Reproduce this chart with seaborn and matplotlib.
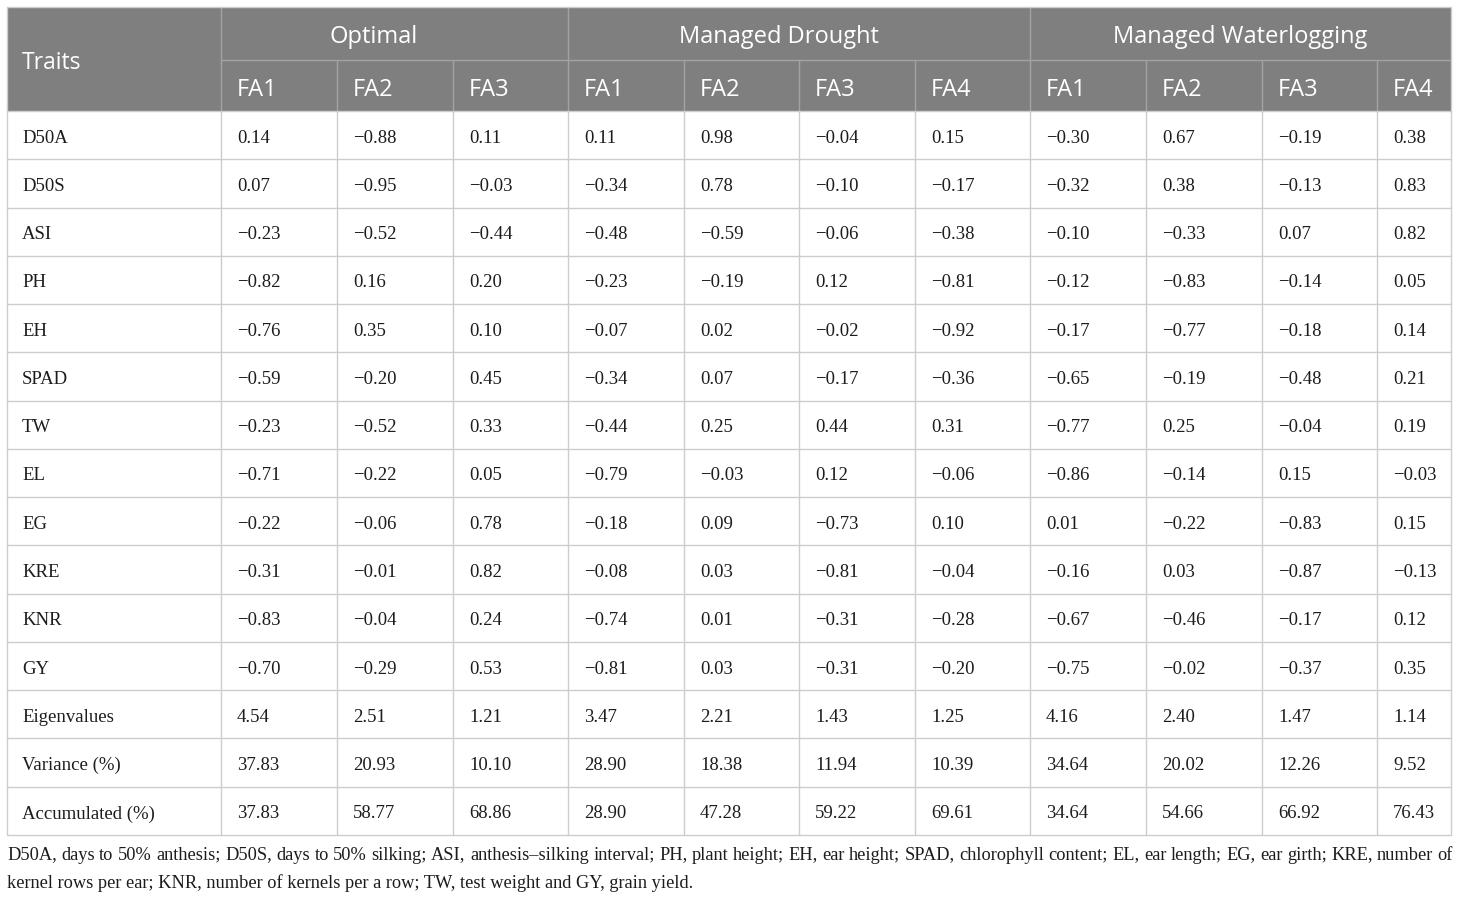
import matplotlib
matplotlib.use("Agg")
import matplotlib.pyplot as plt
from matplotlib.patches import Rectangle
import seaborn as sns

sns.set_theme(style="white")

# ---------------- data ----------------
traits = ["D50A", "D50S", "ASI", "PH", "EH", "SPAD", "TW", "EL", "EG", "KRE", "KNR", "GY",
          "Eigenvalues", "Variance (%)", "Accumulated (%)"]
groups = ["Optimal", "Managed Drought", "Managed Waterlogging"]
factors_optimal = ["FA1", "FA2", "FA3"]
factors_drought = ["FA1", "FA2", "FA3", "FA4"]
factors_waterlog = ["FA1", "FA2", "FA3", "FA4"]

optimal = [
    [0.14, -0.88, 0.11],
    [0.07, -0.95, -0.03],
    [-0.23, -0.52, -0.44],
    [-0.82, 0.16, 0.20],
    [-0.76, 0.35, 0.10],
    [-0.59, -0.20, 0.45],
    [-0.23, -0.52, 0.33],
    [-0.71, -0.22, 0.05],
    [-0.22, -0.06, 0.78],
    [-0.31, -0.01, 0.82],
    [-0.83, -0.04, 0.24],
    [-0.70, -0.29, 0.53],
    [4.54, 2.51, 1.21],
    [37.83, 20.93, 10.10],
    [37.83, 58.77, 68.86],
]
drought = [
    [0.11, 0.98, -0.04, 0.15],
    [-0.34, 0.78, -0.10, -0.17],
    [-0.48, -0.59, -0.06, -0.38],
    [-0.23, -0.19, 0.12, -0.81],
    [-0.07, 0.02, -0.02, -0.92],
    [-0.34, 0.07, -0.17, -0.36],
    [-0.44, 0.25, 0.44, 0.31],
    [-0.79, -0.03, 0.12, -0.06],
    [-0.18, 0.09, -0.73, 0.10],
    [-0.08, 0.03, -0.81, -0.04],
    [-0.74, 0.01, -0.31, -0.28],
    [-0.81, 0.03, -0.31, -0.20],
    [3.47, 2.21, 1.43, 1.25],
    [28.90, 18.38, 11.94, 10.39],
    [28.90, 47.28, 59.22, 69.61],
]
waterlog = [
    [-0.30, 0.67, -0.19, 0.38],
    [-0.32, 0.38, -0.13, 0.83],
    [-0.10, -0.33, 0.07, 0.82],
    [-0.12, -0.83, -0.14, 0.05],
    [-0.17, -0.77, -0.18, 0.14],
    [-0.65, -0.19, -0.48, 0.21],
    [-0.77, 0.25, -0.04, 0.19],
    [-0.86, -0.14, 0.15, -0.03],
    [0.01, -0.22, -0.83, 0.15],
    [-0.16, 0.03, -0.87, -0.13],
    [-0.67, -0.46, -0.17, 0.12],
    [-0.75, -0.02, -0.37, 0.35],
    [4.16, 2.40, 1.47, 1.14],
    [34.64, 20.02, 12.26, 9.52],
    [34.64, 54.66, 66.92, 76.43],
]
footnote = [
    "D50A, days to 50% anthesis; D50S, days to 50% silking; ASI, anthesis\u2013silking interval; PH, plant height; "
    "EH, ear height; SPAD, chlorophyll content; EL, ear length; EG, ear girth; KRE, number of",
    "kernel rows per ear; KNR, number of kernels per a row; TW, test weight and GY, grain yield.",
]

# ---------------- layout (pixel coordinates) ----------------
W, H = 1460, 897
fig = plt.figure(figsize=(W / 100, H / 100), dpi=100)
ax = fig.add_axes([0, 0, 1, 1])
ax.set_xlim(0, W)
ax.set_ylim(H, 0)
ax.axis("off")

col_edges = [7, 221, 337, 453, 568, 684, 799, 915, 1030, 1146, 1262, 1377, 1451]
group_edges = [221, 568, 1030, 1451]
group_centers = [373.5, 778.5, 1240]
top, mid, hdr_bot, bot = 7.5, 60, 111, 835
row_h = (bot - hdr_bot) / len(traits)

HEADER_BG = "#7f7f7f"
HEADER_LINE = "#a3a3a3"
GRID = "#cdcdcd"
TXT = "#1c1c1c"
sans = ["Open Sans", "DejaVu Sans"]
serif = ["Liberation Serif", "DejaVu Serif"]

# header background
ax.add_patch(Rectangle((col_edges[0], top), col_edges[-1] - col_edges[0], hdr_bot - top,
                       facecolor=HEADER_BG, edgecolor="none", zorder=1))
# header lines
ax.plot([group_edges[0], group_edges[-1]], [mid, mid], color=HEADER_LINE, lw=1.0, zorder=2)
for x in group_edges[:-1]:
    ax.plot([x, x], [top, hdr_bot], color=HEADER_LINE, lw=1.0, zorder=2)
for x in col_edges[1:-1]:
    if x not in group_edges:
        ax.plot([x, x], [mid, hdr_bot], color=HEADER_LINE, lw=1.0, zorder=2)
ax.plot([col_edges[0], col_edges[-1]], [top, top], color=GRID, lw=1.0, zorder=2)

# body grid
for i in range(len(traits) + 1):
    y = hdr_bot + i * row_h
    ax.plot([col_edges[0], col_edges[-1]], [y, y], color=GRID, lw=1.0, zorder=2)
for x in col_edges:
    ax.plot([x, x], [hdr_bot, bot], color=GRID, lw=1.0, zorder=2)
for x in (col_edges[0], col_edges[-1]):
    ax.plot([x, x], [top, hdr_bot], color=GRID, lw=1.0, zorder=2)

# header texts
ax.text(col_edges[0] + 15, (top + hdr_bot) / 2 + 3.5, "Traits", color="white", fontsize=16.5,
        family=sans, ha="left", va="center", zorder=3)
for g, cx in zip(groups, group_centers):
    ax.text(cx, (top + mid) / 2 + 3, g, color="white", fontsize=17, family=sans,
            ha="center", va="center", zorder=3)
all_factors = factors_optimal + factors_drought + factors_waterlog
for j, f in enumerate(all_factors):
    ax.text(col_edges[j + 1] + 16, (mid + hdr_bot) / 2 + 4, f, color="white", fontsize=17,
            family=sans, ha="left", va="center", zorder=3)

# body texts
def fmt(v):
    s = f"{abs(v):.2f}"
    return ("\u2212" + s) if v < 0 else s

for i, t in enumerate(traits):
    yc = hdr_bot + (i + 0.5) * row_h + 3
    ax.text(col_edges[0] + 15, yc, t, color=TXT, fontsize=13.5, family=serif,
            ha="left", va="center", zorder=3)
    row_vals = optimal[i] + drought[i] + waterlog[i]
    for j, v in enumerate(row_vals):
        ax.text(col_edges[j + 1] + 16, yc, fmt(v), color=TXT, fontsize=13.5, family=serif,
                ha="left", va="center", zorder=3)

# footnote (first line justified to the table width)
renderer = fig.canvas.get_renderer()
fn_size = 13.2
x0, x1 = col_edges[0], 1453
words = footnote[0].split(" ")
widths = []
for w in words:
    tt = ax.text(0, 0, w, fontsize=fn_size, family=serif)
    widths.append(tt.get_window_extent(renderer).width)
    tt.remove()
gap = (x1 - x0 - sum(widths)) / (len(words) - 1)
xx = x0
for w, wd in zip(words, widths):
    ax.text(xx, 855, w, color=TXT, fontsize=fn_size, family=serif,
            ha="left", va="center", zorder=3)
    xx += wd + gap
ax.text(x0, 883, footnote[1], color=TXT, fontsize=fn_size, family=serif,
        ha="left", va="center", zorder=3)

fig.savefig("out.png", dpi=100, facecolor="white")
